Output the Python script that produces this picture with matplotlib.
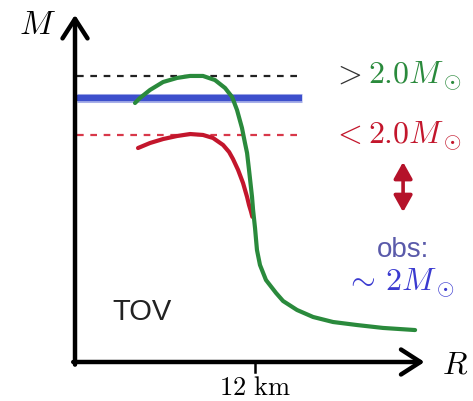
import matplotlib
matplotlib.use("Agg")
import matplotlib.pyplot as plt

plt.rcParams['mathtext.fontset'] = 'cm'

# mass-radius curves (R in km, M in solar masses)
R_stiff = [4.0, 4.33, 5.0, 5.87, 6.8, 7.67, 8.53, 9.33, 10.0, 10.47, 10.8, 11.13,
           11.33, 11.47, 11.6, 11.8, 11.87, 12.0, 12.07, 12.13, 12.33, 12.73, 13.4,
           13.87, 14.8, 15.87, 17.2, 18.8, 20.53, 22.67]
M_stiff = [1.962, 2.0, 2.061, 2.121, 2.152, 2.167, 2.167, 2.136, 2.076, 2.008, 1.909,
           1.773, 1.659, 1.583, 1.455, 1.25, 1.152, 1.015, 0.924, 0.848, 0.735, 0.621,
           0.523, 0.462, 0.394, 0.341, 0.303, 0.280, 0.258, 0.242]
R_soft = [4.2, 5.0, 5.87, 6.8, 7.67, 8.53, 9.2, 9.87, 10.27, 10.53, 10.87, 11.2,
          11.47, 11.6, 11.73, 11.82]
M_soft = [1.621, 1.659, 1.689, 1.712, 1.727, 1.720, 1.697, 1.644, 1.591, 1.538,
          1.455, 1.356, 1.25, 1.189, 1.14, 1.1]

M_obs = 2.0          # blue band
M_max_stiff = 2.167  # black dashed
M_max_soft = 1.72    # red dashed
R_tick = 12.0
tick_label = r'$12\ \mathrm{km}$'

green = '#2a8a3c'
red = '#c3162c'
blue = '#3d4fcc'


def draw():
    fig = plt.figure(figsize=(4.73, 4.01), dpi=100)
    ax = fig.add_axes([0, 0, 1, 1])
    ax.set_xlim(-5, 26.53)
    ax.set_ylim(-0.2955, 2.7424)
    ax.axis('off')

    # axes with arrows
    arrow = dict(arrowstyle='->,head_length=0.7,head_width=0.45', lw=3.2,
                 color='black', mutation_scale=20, shrinkA=0, shrinkB=0)
    ax.annotate('', xy=(0, 2.63), xytext=(0, -0.02), arrowprops=arrow)
    ax.annotate('', xy=(23.3, 0), xytext=(-0.12, 0), arrowprops=arrow)
    ax.plot([R_tick, R_tick], [0, -0.075], color='black', lw=1.8)

    ax.text(-2.53, 2.56, r'$M$', fontsize=24, ha='center', va='center')
    ax.text(25.33, -0.02, r'$R$', fontsize=23, ha='center', va='center')
    ax.text(R_tick, -0.2, tick_label, fontsize=19, ha='center', va='center')

    # reference lines
    ax.plot([0.13, 15.2], [M_max_stiff] * 2, color='#222222', lw=1.6,
            dashes=(3, 3))
    ax.plot([0.13, 15.2], [M_max_soft] * 2, color='#d8384a', lw=1.6,
            dashes=(3, 3))
    ax.plot([0.13, 15.13], [M_obs] * 2, color=blue, lw=6.5, alpha=0.45,
            solid_capstyle='butt')
    ax.plot([0.13, 15.13], [M_obs] * 2, color=blue, lw=4.5,
            solid_capstyle='butt')

    # curves
    ax.plot(R_soft, M_soft, color=red, lw=3, solid_capstyle='round',
            solid_joinstyle='round')
    ax.plot(R_stiff, M_stiff, color=green, lw=3, solid_capstyle='round',
            solid_joinstyle='round')

    # labels on the right
    ax.text(17.13, 2.114, r'$>$', fontsize=23, color='#333333',
            ha='left', va='baseline')
    ax.text(19.53, 2.114, r'$2.0M_\odot$', fontsize=23, color=green,
            ha='left', va='baseline')
    ax.text(17.13, 1.659, r'$<$', fontsize=23, color=red,
            ha='left', va='baseline')
    ax.text(19.53, 1.659, r'$2.0M_\odot$', fontsize=23, color=red,
            ha='left', va='baseline')

    ax.annotate('', xy=(21.87, 1.136), xytext=(21.87, 1.515),
                arrowprops=dict(arrowstyle='<|-|>,head_length=0.5,head_width=0.28',
                                lw=2.6, color='#b5122a', mutation_scale=20,
                                shrinkA=0, shrinkB=0))

    ax.text(21.87, 0.795, 'obs:', fontsize=20, color='#5a5aaa',
            family='Liberation Sans', ha='center', va='baseline')
    ax.text(18.0, 0.545, r'$\sim\, 2M_\odot$', fontsize=23, color='#3a3ad0',
            ha='left', va='baseline')

    ax.text(4.47, 0.38, 'TOV', fontsize=21, color='#222222',
            family='Liberation Sans', ha='center', va='center')

    fig.savefig('out.png', dpi=100)


if __name__ == "__main__":
    draw()
